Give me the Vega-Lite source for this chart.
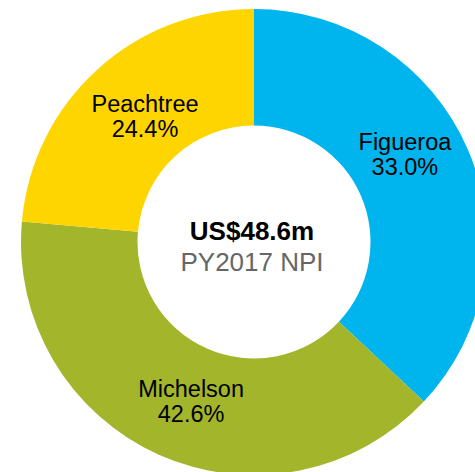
{
  "$schema": "https://vega.github.io/schema/vega-lite/v6.json",
  "width": 442,
  "height": 460,
  "autosize": {"type": "none"},
  "padding": {"left": 33, "top": 12, "right": 0, "bottom": 0},
  "background": "white",
  "config": {"view": {"stroke": null}},
  "layer": [
    {
      "data": {"name": "slices", "values": [
        {"name": "Figueroa", "value": 37.0, "pct": "33.0%", "ord": 1},
        {"name": "Michelson", "value": 39.4, "pct": "42.6%", "ord": 2},
        {"name": "Peachtree", "value": 23.6, "pct": "24.4%", "ord": 3}
      ]},
      "transform": [
        {"stack": "value", "groupby": [], "sort": [{"field": "ord"}], "as": ["s0", "s1"]},
        {"calculate": "(datum.s0 + datum.s1) / 2", "as": "mid"},
        {"calculate": "[datum.name, datum.pct]", "as": "label"}
      ],
      "layer": [
        {
          "mark": {"type": "arc", "outerRadius": 233, "innerRadius": 116.5},
          "encoding": {
            "theta": {"field": "s0", "type": "quantitative", "scale": {"domain": [0, 100]}},
            "theta2": {"field": "s1"},
            "color": {"field": "name", "type": "nominal", "legend": null,
              "scale": {"domain": ["Figueroa", "Michelson", "Peachtree"], "range": ["#00B4EE", "#A3B52A", "#FFD500"]}}
          }
        },
        {
          "transform": [{"filter": "datum.name == 'Figueroa'"}],
          "mark": {"type": "text", "radius": 175, "dx": -9.7, "dy": -29.1, "fontSize": 23.5, "font": "Liberation Sans", "lineHeight": 25, "align": "center", "baseline": "middle", "color": "#000000"},
          "encoding": {
            "theta": {"field": "mid", "type": "quantitative", "scale": {"domain": [0, 100]}},
            "text": {"field": "label"}
          }
        },
        {
          "transform": [{"filter": "datum.name == 'Peachtree'"}],
          "mark": {"type": "text", "radius": 175, "dx": 9.2, "dy": -8, "fontSize": 23.5, "font": "Liberation Sans", "lineHeight": 25, "align": "center", "baseline": "middle", "color": "#000000"},
          "encoding": {
            "theta": {"field": "mid", "type": "quantitative", "scale": {"domain": [0, 100]}},
            "text": {"field": "label"}
          }
        },
        {
          "transform": [{"filter": "datum.name == 'Michelson'"}],
          "mark": {"type": "text", "radius": 175, "dx": 8.6, "dy": -11.7, "fontSize": 23.5, "font": "Liberation Sans", "lineHeight": 25, "align": "center", "baseline": "middle", "color": "#000000"},
          "encoding": {
            "theta": {"field": "mid", "type": "quantitative", "scale": {"domain": [0, 100]}},
            "text": {"field": "label"}
          }
        }
      ]
    },
    {
      "data": {"values": [{"t": "US$48.6m"}]},
      "mark": {"type": "text", "fontSize": 26, "fontWeight": "bold", "font": "Liberation Sans", "align": "center", "baseline": "alphabetic", "dx": -2, "dy": -2.5, "color": "#000000"},
      "encoding": {"text": {"field": "t"}}
    },
    {
      "data": {"values": [{"t": "PY2017 NPI"}]},
      "mark": {"type": "text", "fontSize": 26, "font": "Liberation Sans", "align": "center", "baseline": "alphabetic", "dx": -2, "dy": 28.7, "color": "#666666"},
      "encoding": {"text": {"field": "t"}}
    }
  ]
}
